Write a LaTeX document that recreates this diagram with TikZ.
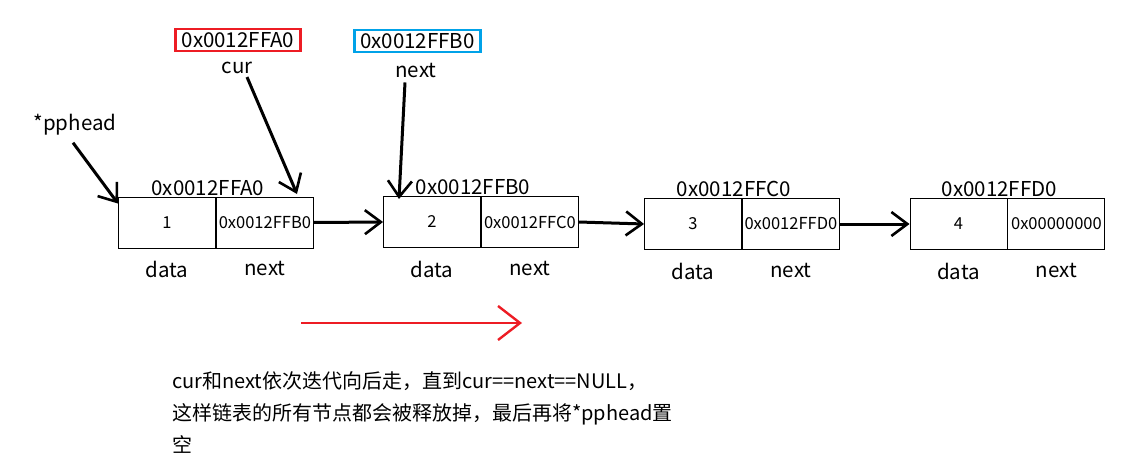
\documentclass[tikz,border=0pt]{standalone}
\usepackage{fontspec}
\setmainfont{Noto Sans CJK SC}
\usetikzlibrary{arrows.meta,positioning}
\definecolor{hotred}{RGB}{237,28,36}
\definecolor{skyblue}{RGB}{0,162,232}
\tikzset{
  cell/.style={draw,line width=0.9pt,minimum height=51pt,inner sep=0pt,font=\fontsize{16.5}{16.5}\selectfont},
  dcell/.style={cell,minimum width=97pt},
  ncell/.style={cell,minimum width=97pt,anchor=west},
  link/.style={line width=3pt,-{Straight Barb[length=16pt,width=24pt,line width=2.6pt]}},
  addr/.style={font=\fontsize{20.5}{20.5}\selectfont,inner sep=1pt},
  lbl/.style={font=\fontsize{20.5}{20.5}\selectfont,inner sep=1pt},
  tag/.style={draw,line width=2.8pt,inner xsep=6pt,inner ysep=2pt,text height=16pt,text depth=2pt,
    font=\fontsize{20.5}{20.5}\selectfont},
}

\begin{document}
\begin{tikzpicture}[x=1pt,y=-1pt]
  \useasboundingbox (0,0) rectangle (1130,471);
  % nodes of the list
  \node[dcell] (d1) at (167,222.5) {1};
  \node[ncell] (n1) at (d1.east) {0x0012FFB0};
  \node[dcell] (d2) at (432,222) {2};
  \node[ncell] (n2) at (d2.east) {0x0012FFC0};
  \node[dcell] (d3) at (693,224) {3};
  \node[ncell] (n3) at (d3.east) {0x0012FFD0};
  \node[dcell] (d4) at (958.5,224) {4};
  \node[ncell] (n4) at (d4.east) {0x00000000};
  % addresses and field names
  \foreach \i/\a in {1/A0,2/B0,3/C0,4/D0} {
    \node[addr,above=0pt of d\i.north east,xshift=-8pt] (a\i) {0x0012FF\a};
    \node[lbl,below=12pt of d\i] (dl\i) {data};
    \node[lbl,below=12pt of n\i] (nl\i) {next};
  }
  % links
  \draw[link] (n1.east) -- (d2.west);
  \draw[link] (n2.east) -- (d3.west);
  \draw[link] (n3.east) -- (d4.west);
  % pointers
  \node[tag,draw=hotred] (curv) at (238,40) {0x0012FFA0};
  \node[lbl] (cur) at (237,68) {cur};
  \node[tag,draw=skyblue] (nextv) at (417.5,41) {0x0012FFB0};
  \node[lbl] (nxt) at (416,70) {next};
  \node[lbl] (pp) at (75,125) {*pphead};
  \coordinate (c1) at (297,194);
  \coordinate (c2) at (399,199);
  \coordinate (c0) at ([yshift=-7pt]d1.north west);
  \draw[link] ([xshift=10pt,yshift=-2pt]cur.south) -- (c1);
  \draw[link] ([xshift=-11pt,yshift=-4pt]nxt.south) -- (c2);
  \draw[link] ([xshift=-2pt,yshift=-6pt]pp.south) -- (c0);
  % direction
  \coordinate (r1) at (301,323);
  \coordinate (r2) at (522,323);
  \draw[hotred,line width=2.4pt,-{Straight Barb[length=22pt,width=34pt,line width=2.4pt]}] (r1) -- (r2);
  \node[anchor=base west,align=left,inner sep=0pt,
    font=\fontsize{20}{32}\selectfont] (txt) at (172,452)
    {cur和next依次迭代向后走，直到cur==next==NULL，\\
     这样链表的所有节点都会被释放掉，最后再将*pphead置\\
     空};
\end{tikzpicture}
\end{document}
